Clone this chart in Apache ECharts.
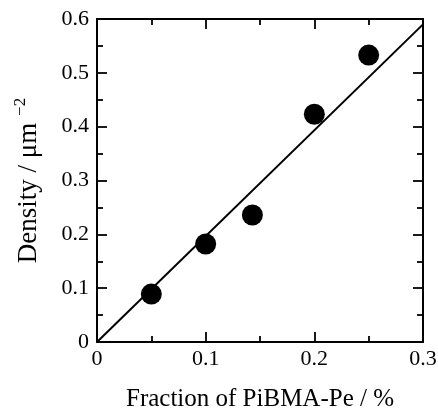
<!DOCTYPE html>
<html>
<head>
<meta charset="utf-8">
<script src="https://cdn.jsdelivr.net/npm/echarts@6/dist/echarts.min.js"></script>
<style>
html,body{margin:0;padding:0;background:#fff;}
#chart{width:438px;height:408px;}
</style>
</head>
<body>
<div id="chart"></div>
<script>
const fractions = [0.05, 0.10, 0.143, 0.20, 0.25];
const densities = [0.089, 0.182, 0.236, 0.423, 0.533];
const fitX = [0, 0.3];
const fitY = [0, 0.59];
const xTicks = ['0', '0.1', '0.2', '0.3'];
const yTicks = ['0', '0.1', '0.2', '0.3', '0.4', '0.5', '0.6'];

const font = '"Liberation Serif", "Times New Roman", serif';
const chart = echarts.init(document.getElementById('chart'), null, {renderer: 'canvas'});

const tickCommon = {
  axisLine: {show: true, onZero: false, lineStyle: {color: '#000', width: 2}},
  axisTick: {show: true, inside: true, length: 10, lineStyle: {color: '#000', width: 1.8}},
  minorTick: {show: true, splitNumber: 2, length: 6, lineStyle: {color: '#000', width: 1.8}},
  splitLine: {show: false},
  minorSplitLine: {show: false}
};

const option = {
  animation: false,
  backgroundColor: '#fff',
  grid: {left: 97, right: 15, top: 19, bottom: 66, containLabel: false, outerBoundsMode: 'none'},
  xAxis: [
    Object.assign({
      type: 'value', min: 0, max: 0.3, interval: 0.1, position: 'bottom',
      name: 'Fraction of PiBMA-Pe / %', nameLocation: 'middle', nameGap: 45,
      nameTextStyle: {fontFamily: font, fontSize: 25, color: '#000'},
      axisLabel: {fontFamily: font, fontSize: 22, color: '#000', margin: 6,
        formatter: v => xTicks[Math.round(v * 10)]}
    }, tickCommon),
    Object.assign({
      type: 'value', min: 0, max: 0.3, interval: 0.1, position: 'top',
      axisLabel: {show: false}
    }, tickCommon)
  ],
  yAxis: [
    Object.assign({
      type: 'value', min: 0, max: 0.6, interval: 0.1, position: 'left',
      name: '{a|Density / μm }{s|−2}', nameLocation: 'middle', nameGap: 52, nameRotate: 90,
      nameTextStyle: {
        rich: {
          a: {fontFamily: font, fontSize: 27, color: '#000'},
          s: {fontFamily: font, fontSize: 17, color: '#000', padding: [0, 0, 16, 0]}
        }
      },
      axisLabel: {fontFamily: font, fontSize: 22, color: '#000', margin: 8,
        formatter: v => yTicks[Math.round(v * 10)]}
    }, tickCommon),
    Object.assign({
      type: 'value', min: 0, max: 0.6, interval: 0.1, position: 'right',
      axisLabel: {show: false}
    }, tickCommon)
  ],
  series: [
    {
      type: 'line',
      data: fitX.map((x, i) => [x, fitY[i]]),
      symbol: 'none',
      lineStyle: {color: '#000', width: 2},
      z: 2
    },
    {
      type: 'scatter',
      data: fractions.map((x, i) => [x, densities[i]]),
      symbol: 'circle',
      symbolSize: 21,
      itemStyle: {color: '#000', opacity: 1},
      z: 3
    }
  ]
};
chart.setOption(option);
</script>
</body>
</html>
